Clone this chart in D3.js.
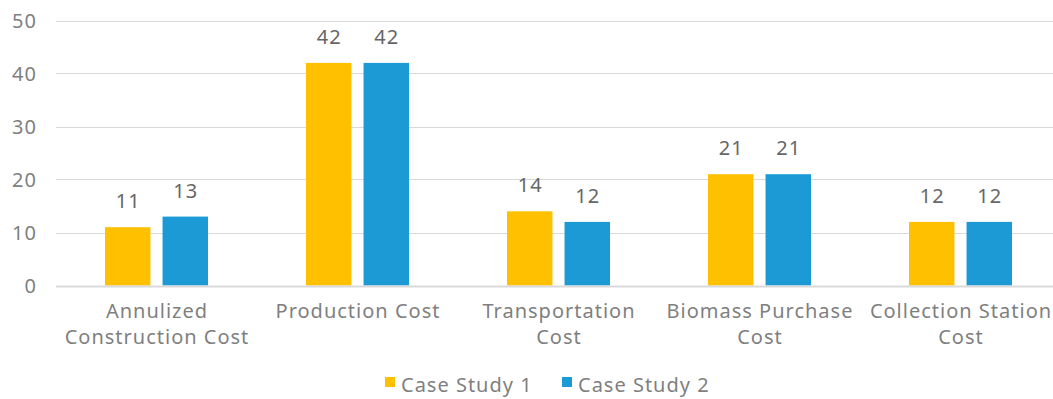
<!DOCTYPE html>
<html><head><meta charset="utf-8">
<script src="https://cdn.jsdelivr.net/npm/d3@7"></script>
<style>body{margin:0;background:#fff;}svg{display:block;font-family:"Noto Sans","Open Sans",sans-serif;}text{letter-spacing:1px;}</style>
</head><body><svg id="c" width="1053" height="399"></svg>
<script>
const categories = [["Annulized","Construction Cost"],["Production Cost"],["Transportation","Cost"],["Biomass Purchase","Cost"],["Collection Station","Cost"]];
const seriesNames = ["Case Study 1","Case Study 2"];
const case1 = [11,42,14,21,12];
const case2 = [13,42,12,21,12];
const yTicks = [0,10,20,30,40,50];
const colors = ["#FFC000","#1B9AD6"];

(function(){
const svg = d3.select("#c");
const pLeft = 56, pRight = 1061, pTop = 20.5, pBottom = 285.5;
const x0 = d3.scaleBand().domain(d3.range(categories.length)).range([pLeft,pRight]).paddingInner(0).paddingOuter(0);
const x1 = d3.scaleBand().domain([0,1]).range([49, x0.bandwidth()-49]).paddingInner(0.21);
const y = d3.scaleLinear().domain([0,50]).range([pBottom,pTop]);

svg.append("g").selectAll("line").data(yTicks.filter(d=>d>0)).join("line")
  .attr("x1",pLeft).attr("x2",pRight).attr("y1",d=>Math.round(y(d))+0.5).attr("y2",d=>Math.round(y(d))+0.5)
  .attr("stroke","#d9d9d9").attr("stroke-width",1);

svg.append("g").selectAll("text").data(yTicks).join("text")
  .attr("x",37).attr("y",d=>y(d)+7).attr("text-anchor","end")
  .attr("font-size",20).attr("fill","#7f7f7f").text(d=>d);

const data = categories.map((c,i)=>({i, vals:[case1[i],case2[i]]}));
const g = svg.append("g").selectAll("g").data(data).join("g").attr("transform",d=>`translate(${x0(d.i)},0)`);
g.selectAll("rect").data(d=>d.vals.map((v,k)=>({v,k}))).join("rect")
  .attr("x",d=>x1(d.k)).attr("width",x1.bandwidth())
  .attr("y",d=>y(d.v)).attr("height",d=>y(0)-y(d.v))
  .attr("fill",d=>colors[d.k]);
g.selectAll("text.v").data(d=>d.vals.map((v,k)=>({v,k}))).join("text").attr("class","v")
  .attr("x",d=>x1(d.k)+x1.bandwidth()/2+0.5).attr("y",d=>y(d.v)-19)
  .attr("text-anchor","middle").attr("font-size",20).attr("fill","#666666").text(d=>d.v);

svg.append("line").attr("x1",pLeft).attr("x2",pRight).attr("y1",pBottom+1).attr("y2",pBottom+1)
  .attr("stroke","#d9d9d9").attr("stroke-width",2);

const cl = svg.append("g").selectAll("g").data(categories).join("g");
cl.each(function(d,i){
  const t=d3.select(this);
  d.forEach((line,j)=>t.append("text").attr("text-anchor","middle").attr("font-size",20).attr("fill","#7f7f7f")
    .attr("x",x0(i)+x0.bandwidth()/2+0.5).attr("y",318+j*26).text(line));
});

const leg = [{x:385,tx:401},{x:562,tx:578}];
seriesNames.forEach((s,k)=>{
  svg.append("rect").attr("x",leg[k].x).attr("y",377).attr("width",10).attr("height",10).attr("fill",colors[k]);
  svg.append("text").attr("x",leg[k].tx).attr("y",392).attr("font-size",20).attr("fill","#7f7f7f").text(s);
});
})();
</script></body></html>
